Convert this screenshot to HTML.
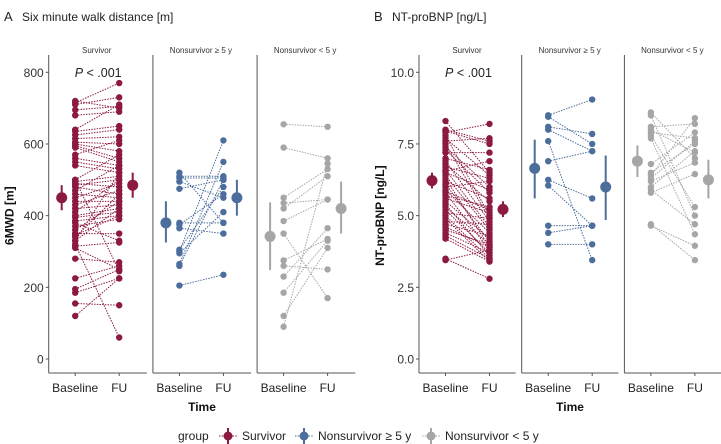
<!DOCTYPE html>
<html><head><meta charset="utf-8"><style>
html,body{margin:0;padding:0;background:#fff;}
svg{display:block;font-family:"Liberation Sans",sans-serif;}
</style></head><body>
<svg id="c" width="721" height="444" viewBox="0 0 721 444">
<text x="4" y="21" font-size="13" fill="#222">A</text>
<text x="22" y="21" font-size="12" fill="#222">Six minute walk distance [m]</text>
<text x="374" y="21" font-size="13" fill="#222">B</text>
<text x="392" y="21" font-size="12" fill="#222">NT-proBNP [ng/L]</text>
</svg>
<script>
// ---- data: panel A (6MWD) ----
const groups = ["Survivor", "Nonsurvivor \u2265 5 y", "Nonsurvivor < 5 y"];
const colors = ["#8b1a3e", "#4c6e9c", "#a6a6a6"];
const xTicks = ["Baseline", "FU"];
const aTicks = [0, 200, 400, 600, 800];
const bTicks = [0.0, 2.5, 5.0, 7.5, 10.0];
const aSurvBase = [720,715,710,695,680,640,635,625,615,605,600,595,590,570,560,550,540,500,495,490,485,480,470,460,450,440,430,420,410,400,395,385,380,370,360,350,340,330,320,315,310,280,225,195,185,155,120,330,345,500];
const aSurvFu   = [700,770,730,705,690,710,650,640,620,600,580,560,550,610,540,530,520,570,510,480,500,460,540,450,490,440,470,430,500,420,410,400,330,390,440,350,460,420,60,325,250,270,260,250,225,150,225,520,400,245];
const aNs5Base = [520,510,505,495,475,380,375,365,305,300,295,265,260,205];
const aNs5Fu   = [380,510,505,450,500,380,460,350,480,610,410,550,500,235];
const aNl5Base = [655,590,450,435,420,385,350,275,260,230,185,120,90];
const aNl5Fu   = [648,560,530,445,510,445,170,335,250,365,330,310,545];
const aMeans = [[450,415,485,485,450,520],[380,325,440,450,400,500],[342,248,437,420,350,495]];
// ---- data: panel B (NT-proBNP) ----
const bSurvBase = [8.3,8.0,7.9,7.8,7.7,7.6,7.5,7.4,7.3,7.2,7.0,6.9,6.8,6.7,6.6,6.5,6.4,6.3,6.2,6.1,6.0,5.9,5.8,5.7,5.6,5.5,5.4,5.3,5.2,5.1,5.0,4.9,4.8,4.7,4.6,4.5,4.4,4.3,4.2,3.5,3.45,7.95,6.55,5.85];
const bSurvFu   = [6.5,7.6,8.2,5.0,6.4,7.7,4.9,6.0,5.8,7.2,6.6,4.8,5.5,6.3,4.6,5.9,4.5,3.9,5.6,4.1,6.2,4.4,3.8,5.3,5.1,4.2,3.6,4.0,3.7,4.9,3.5,3.4,4.7,4.3,3.9,4.0,3.7,3.5,3.4,2.8,3.8,7.5,6.9,5.2];
const bNs5Base = [8.5,8.45,8.1,8.0,7.6,6.9,6.25,6.05,4.65,4.4,4.0];
const bNs5Fu   = [9.05,7.5,7.85,7.25,3.45,7.25,5.6,4.65,4.65,4.65,4.0];
const bNl5Base = [8.6,8.5,8.1,8.0,7.9,7.8,7.7,6.8,6.5,6.4,6.3,6.2,6.0,5.9,5.8,4.7,4.65];
const bNl5Fu   = [7.0,5.0,8.2,7.2,7.7,5.3,4.35,7.9,7.5,8.4,7.6,6.85,7.25,4.7,6.45,3.45,3.95];
const bMeans = [[6.22,5.95,6.5,5.22,4.95,5.5],[6.65,5.6,7.65,6.0,4.85,7.1],[6.9,6.35,7.45,6.25,5.6,6.95]];

const NS = "http://www.w3.org/2000/svg";
const svg = document.getElementById("c");
function mk(tag, attrs, parent) {
  const e = document.createElementNS(NS, tag);
  for (const k in attrs) e.setAttribute(k, attrs[k]);
  (parent || svg).appendChild(e);
  return e;
}
const Y0 = 359, Ytop = 72.3;

function panel(p) {
  const g = mk("g", {});
  
  
  const y = v => Y0 - (v - p.min) / (p.max - p.min) * (Y0 - Ytop);
  // y axis
  const ax = mk("line", {x1: p.axisX, x2: p.axisX, y1: 55, y2: 373, stroke: "#555", "stroke-width": 1}, g);
  
  
  p.ticks.forEach(t => {
    mk("line", {x1: p.axisX - 3, x2: p.axisX, y1: y(t), y2: y(t), stroke: "#555"}, g);
    const tx = mk("text", {x: p.axisX - 5, y: y(t) + 4.5, "font-size": 12, fill: "#333", "text-anchor": "end"}, g);
    tx.textContent = p.fmt(t);
    
    
  });
  const yt = mk("text", {x: 0, y: 0, "font-size": 12, "font-weight": "bold", fill: "#111", "text-anchor": "middle", transform: `translate(${p.axisX - 35},${(Y0 + Ytop) / 2}) rotate(-90)`}, g);
  yt.textContent = p.ytitle;
  
  
  // facets
  for (let f = 0; f < 3; f++) {
    const fx = p.axisX + f * p.fw;
    const bx = fx + 26.5, ux = fx + 70.5;
    const fg = mk("g", {}, g);
    
    
    if (f > 0) mk("line", {x1: fx, x2: fx, y1: 55, y2: 373, stroke: "#555"}, fg);
    mk("line", {x1: fx, x2: fx + p.fw - 6, y1: 373, y2: 373, stroke: "#555"}, fg);
    const st = mk("text", {x: fx + 48, y: 53, "font-size": 8, fill: "#333", "text-anchor": "middle"}, fg);
    st.textContent = groups[f];
    
    
    [bx, ux].forEach((xx, i) => {
      mk("line", {x1: xx, x2: xx, y1: 373, y2: 376, stroke: "#555"}, fg);
      const lt = mk("text", {x: xx, y: 392, "font-size": 12, fill: "#222", "text-anchor": "middle"}, fg);
      lt.textContent = xTicks[i];
      
      
    });
    const base = p.base[f], fu = p.fu[f], c = colors[f];
    for (let i = 0; i < base.length; i++) {
      const l = mk("line", {x1: bx, y1: y(base[i]), x2: ux, y2: y(fu[i]), stroke: c, "stroke-width": 1, "stroke-dasharray": "1.5,1.2"}, fg);
      
      
    }
    for (let i = 0; i < base.length; i++) {
      const a = mk("circle", {cx: bx, cy: y(base[i]), r: 3.2, fill: c}, fg);
      
      
      const b = mk("circle", {cx: ux, cy: y(fu[i]), r: 3.2, fill: c}, fg);
      
      
    }
    const m = p.means[f];
    [[fx + 13, m[0], m[1], m[2]], [fx + 84, m[3], m[4], m[5]]].forEach(q => {
      const l = mk("line", {x1: q[0], x2: q[0], y1: y(q[2]), y2: y(q[3]), stroke: c, "stroke-width": 2}, fg);
      
      
      const d = mk("circle", {cx: q[0], cy: y(q[1]), r: 5.5, fill: c}, fg);
      
      
    });
  }
  const pv = mk("text", {x: p.axisX + 26, y: 77, "font-size": 12.5, fill: "#222"}, g);
  pv.innerHTML = '<tspan font-style="italic">P</tspan> &lt; .001';
  
  
  const tt = mk("text", {x: p.axisX + 1.5 * p.fw - 3, y: 411, "font-size": 12, "font-weight": "bold", fill: "#111", "text-anchor": "middle"}, g);
  tt.textContent = "Time";
  
  
}

panel({name: "panel-6mwd", axisX: 48.7, fw: 104.2, min: 0, max: 800, ticks: aTicks, fmt: t => String(t), ytitle: "6MWD [m]",
  base: [aSurvBase, aNs5Base, aNl5Base], fu: [aSurvFu, aNs5Fu, aNl5Fu], means: aMeans});
panel({name: "panel-ntprobnp", axisX: 419, fw: 102.7, min: 0, max: 10, ticks: bTicks, fmt: t => t.toFixed(1), ytitle: "NT-proBNP [ng/L]",
  base: [bSurvBase, bNs5Base, bNl5Base], fu: [bSurvFu, bNs5Fu, bNl5Fu], means: bMeans});

// legend
const lg = mk("g", {});


const gt = mk("text", {x: 178, y: 440, "font-size": 12, fill: "#222"}, lg);
gt.textContent = "group";


const keyX = [228, 304, 431];
groups.forEach((gname, i) => {
  const e = mk("g", {}, lg);
  
  
  mk("line", {x1: keyX[i] - 9, x2: keyX[i] + 9, y1: 436, y2: 436, stroke: colors[i], "stroke-dasharray": "1.5,1.2"}, e);
  mk("line", {x1: keyX[i], x2: keyX[i], y1: 428, y2: 444, stroke: colors[i], "stroke-width": 2}, e);
  mk("circle", {cx: keyX[i], cy: 436, r: 4.5, fill: colors[i]}, e);
  const t = mk("text", {x: keyX[i] + 14, y: 440, "font-size": 12, fill: "#222"}, e);
  t.textContent = gname;
});
</script>
</body></html>
